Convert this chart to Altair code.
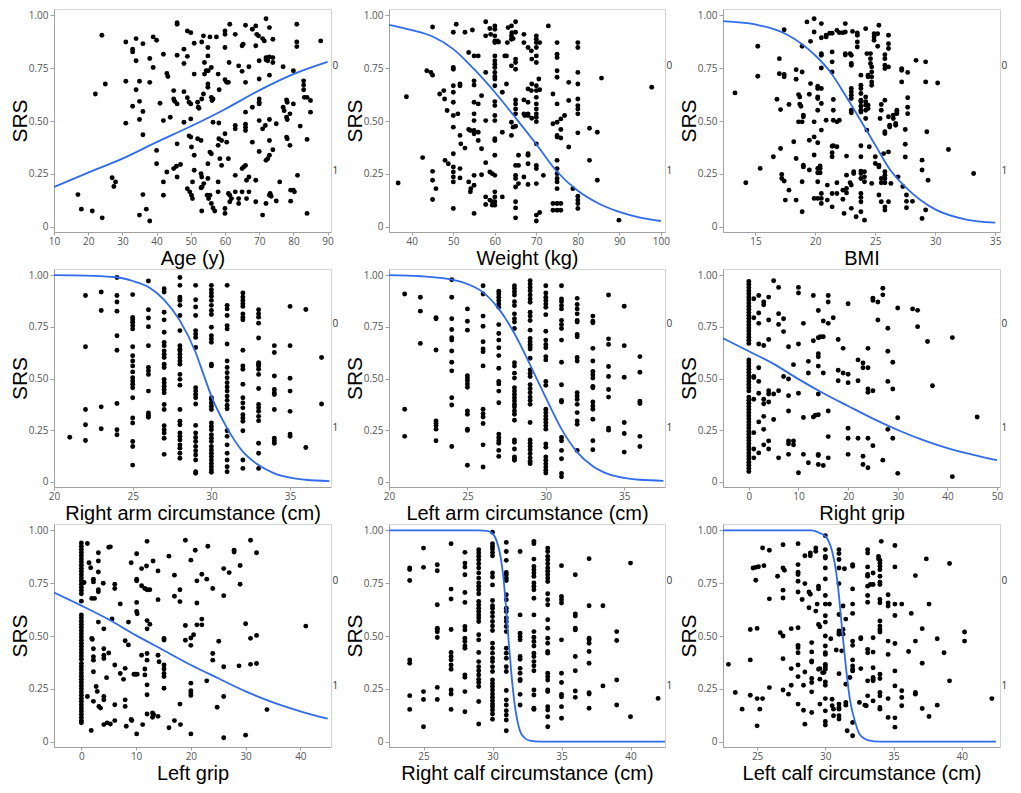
import altair as alt
import pandas as pd

BLUE = "#2f6bef"

# ---------------- data (x, [SRS values]) ----------------
age_pts = [
    (24, [0.906]), (25, [0.675]), (22.1, [0.628]), (17, [0.152]), (18, [0.083]), (21.2, [0.074]), (24.1, [0.042]),
    (27, [0.232]), (27.5, [0.19]), (28, [0.212]),
    (31, [0.874, 0.688, 0.49]), (33, [0.84, 0.827, 0.57]), (34, [0.89, 0.785, 0.648]),
    (35, [0.688, 0.593, 0.507, 0.055]), (36, [0.866, 0.545, 0.435, 0.152]), (37, [0.083]), (38, [0.027, 0.796, 0.683]),
    (39, [0.898, 0.753]), (40, [0.882, 0.361, 0.298]), (41, [0.584]),
    (42, [0.816, 0.502, 0.212, 0.149]), (43, [0.725, 0.259]), (43.3, [0.711]), (44, [0.518]),
    (45, [0.644, 0.604, 0.275]), (45.3, [0.593]), (45.8, [0.286]), (47, [0.294]),
    (46, [0.965, 0.958, 0.811, 0.581, 0.392, 0.235]), (48, [0.84, 0.772, 0.639, 0.494]),
    (49, [0.926, 0.806, 0.61, 0.18]), (49.5, [0.589, 0.43]), (49.7, [0.165]),
    (50, [0.918, 0.581, 0.424, 0.51]), (50.2, [0.377, 0.149]), (50.5, [0.133, 0.212]),
    (51, [0.868, 0.722, 0.338, 0.267]), (52, [0.589, 0.416]), (52.2, [0.565]), (52.4, [0.56]),
    (53, [0.408, 0.184, 0.251]), (53.3, [0.188]), (53.8, [0.204]), (53.2, [0.074, 0.235, 0.874, 0.604]),
    (53.7, [0.903, 0.628]), (54, [0.777, 0.722]), (54.5, [0.738]), (55.1, [0.738]),
    (55, [0.848, 0.808, 0.675, 0.66, 0.298, 0.228]), (54.8, [0.149]), (55.2, [0.133]),
    (55.6, [0.898, 0.353, 0.149]), (56, [0.753, 0.612, 0.345, 0.11]), (56.2, [0.597]), (56.5, [0.604, 0.494, 0.089]),
    (57, [0.074]), (57.5, [0.898]), (58, [0.385, 0.722, 0.212, 0.165]), (58.2, [0.416, 0.491]), (58.3, [0.648]), (58.5, [0.322]),
    (59, [0.408, 0.29]), (60, [0.926, 0.91, 0.848, 0.695, 0.44, 0.086, 0.063]), (60.5, [0.683, 0.4]), (61, [0.683, 0.322, 0.157]),
    (61.4, [0.958, 0.149, 0.118]), (61.2, [0.777]), (61.9, [0.133]),
    (63, [0.91, 0.479, 0.463, 0.243, 0.165]), (64, [0.761, 0.133, 0.11]),
    (65, [0.856, 0.735, 0.275, 0.165]), (65.3, [0.863]), (65.5, [0.283]),
    (66, [0.29, 0.953, 0.683, 0.542, 0.485, 0.471, 0.455]), (66.3, [0.22, 0.133]),
    (67, [0.757, 0.235, 0.165]), (68, [0.934, 0.565, 0.4]),
    (69, [0.95, 0.856, 0.22, 0.118]), (69.3, [0.91]), (69.8, [0.903]),
    (70, [0.785, 0.699, 0.604, 0.589, 0.581, 0.502, 0.356]), (71, [0.89, 0.463, 0.055]), (71.5, [0.879]), (71.8, [0.479]),
    (72, [0.984, 0.8, 0.79, 0.314, 0.11]), (72.5, [0.8, 0.785, 0.322]), (73, [0.803, 0.338, 0.942, 0.717, 0.507, 0.408, 0.149]),
    (73.2, [0.157]), (73.5, [0.144]), (74, [0.887, 0.8, 0.777, 0.364]), (75, [0.487, 0.122]), (76, [0.212]),
    (77, [0.757, 0.565]), (77.3, [0.549]), (78, [0.6, 0.518, 0.424]), (78.2, [0.589, 0.507, 0.416]),
    (79, [0.385, 0.534]), (79.2, [0.173, 0.121]), (80, [0.581, 0.738, 0.173]), (80.3, [0.165]),
    (81, [0.958, 0.874, 0.852]), (81.2, [0.243]), (82, [0.476]), (83, [0.69, 0.67, 0.648]), (83.2, [0.612]),
    (84, [0.612, 0.413, 0.063]), (85, [0.597, 0.542]), (88, [0.879]),
]

weight_pts = [
    (36.7, [0.207]), (38.7, [0.615]), (42.6, [0.327]), (43.6, [0.738]), (44.6, [0.73]),
    (45, [0.717, 0.945, 0.262, 0.22, 0.129]), (45.8, [0.18]), (46.7, [0.628]), (47.7, [0.644]), (47.9, [0.604]),
    (48.5, [0.55]), (48, [0.314]), (48.8, [0.298]),
    (50, [0.92, 0.753, 0.745, 0.667, 0.636, 0.589, 0.526, 0.471, 0.345, 0.283, 0.259, 0.235, 0.212, 0.086]),
    (50.7, [0.958]), (51.1, [0.534]), (51.6, [0.675, 0.667, 0.432, 0.275, 0.231]), (51.8, [0.392]),
    (52.8, [0.92, 0.372]), (53.7, [0.824, 0.46, 0.212]), (54.1, [0.455, 0.165]), (54.2, [0.18]),
    (54.6, [0.931]), (55, [0.808, 0.69, 0.67, 0.589, 0.534, 0.502, 0.455, 0.44, 0.243, 0.196, 0.063]),
    (56, [0.808, 0.581, 0.447, 0.408]), (56.8, [0.62, 0.369, 0.246]),
    (57.8, [0.903, 0.73, 0.502, 0.303, 0.141, 0.105, 0.97]), (58.8, [0.938, 0.259, 0.126]), (59, [0.91]),
    (59.4, [0.251, 0.118, 0.102]),
    (60, [0.95, 0.934, 0.903, 0.879, 0.871, 0.808, 0.785, 0.769, 0.753, 0.73, 0.711, 0.699, 0.667,
          0.592, 0.573, 0.526, 0.502, 0.416, 0.408, 0.338, 0.243, 0.165, 0.141, 0.118, 0.102]),
    (60.6, [0.879]), (60.9, [0.874]), (61.8, [0.636, 0.447, 0.141]), (62.4, [0.808]), (62.8, [0.808, 0.675]),
    (63, [0.871]), (63.2, [0.942]), (64, [0.95, 0.903, 0.887, 0.761, 0.494, 0.432]), (64.1, [0.918]), (64.4, [0.89, 0.471]),
    (65, [0.97, 0.92, 0.793, 0.777, 0.745, 0.6, 0.581, 0.557, 0.534, 0.475, 0.29, 0.243, 0.228, 0.188, 0.118, 0.089, 0.042]),
    (65.7, [0.338, 0.29, 0.204]), (67, [0.871, 0.91, 0.6, 0.534, 0.235]), (67.2, [0.526]),
    (68, [0.848, 0.652, 0.589, 0.534, 0.526, 0.345, 0.338, 0.298, 0.2]),
    (68.8, [0.832, 0.644]), (68.9, [0.793, 0.675, 0.513]),
    (70, [0.903, 0.887, 0.871, 0.848, 0.808, 0.777, 0.667, 0.644, 0.612, 0.581, 0.557, 0.534, 0.518, 0.497,
          0.392, 0.29, 0.275, 0.204, 0.055, 0.027]),
    (70.8, [0.871, 0.648, 0.067]), (70.6, [0.699]), (71.7, [0.243]), (72.9, [0.95]), (74, [0.628, 0.487, 0.11, 0.078]),
    (75, [0.871, 0.816, 0.8, 0.738, 0.707, 0.581, 0.494, 0.432, 0.424, 0.314, 0.275, 0.251, 0.228, 0.212, 0.18, 0.11, 0.078]),
    (75.9, [0.51, 0.46, 0.42, 0.11, 0.078]), (76.8, [0.526]), (77.8, [0.683, 0.597, 0.377]), (78.8, [0.18]),
    (80, [0.871, 0.848, 0.73, 0.675, 0.604, 0.573, 0.557, 0.534, 0.444, 0.144, 0.126, 0.11, 0.086]),
    (82.8, [0.466, 0.314]), (84.7, [0.447, 0.22]), (85.7, [0.703]), (89.9, [0.031]), (97.8, [0.66]),
]

bmi_pts = [
    (13.3, [0.633]), (14.2, [0.208]), (15.2, [0.854, 0.712]), (15.4, [0.276]), (16.5, [0.331]), (16.8, [0.603]),
    (17.0, [0.795, 0.724]), (17.1, [0.554, 0.37]), (17.2, [0.247, 0.228]), (17.4, [0.932, 0.72, 0.709, 0.216]), (17.5, [0.126]),
    (17.8, [0.578, 0.173]), (18.2, [0.402]), (18.4, [0.743, 0.698, 0.323, 0.126]), (18.6, [0.625, 0.496]), (18.7, [0.614, 0.58]),
    (18.8, [0.57]), (18.9, [0.854, 0.732, 0.496, 0.213, 0.071]), (19.0, [0.52, 0.528, 0.291, 0.283]), (19.3, [0.969]),
    (19.5, [0.627, 0.409, 0.268]), (19.6, [0.877, 0.677]), (19.9, [0.984, 0.921, 0.496, 0.425, 0.339, 0.134]),
    (20.2, [0.665, 0.654, 0.614, 0.606, 0.551, 0.397, 0.276, 0.255, 0.213, 0.134]), (20.4, [0.287, 0.276, 0.255]),
    (20.5, [0.819, 0.811, 0.751, 0.894, 0.961, 0.654, 0.583, 0.457, 0.157, 0.134, 0.11]),
    (20.9, [0.504, 0.898, 0.906]), (21.0, [0.197, 0.126]), (21.2, [0.915]),
    (21.4, [0.915, 0.827, 0.78, 0.732, 0.381, 0.35, 0.331, 0.157, 0.094]), (21.5, [0.602, 0.551, 0.504, 0.383]),
    (21.8, [0.929, 0.378, 0.208, 0.157, 0.496]), (22.0, [0.918, 0.504]), (22.3, [0.918, 0.13, 0.173]),
    (22.5, [0.921, 0.961, 0.819, 0.812]), (22.6, [0.334, 0.244, 0.181, 0.16]), (22.9, [0.208, 0.819]), (22.4, [0.063]),
    (23.0, [0.811, 0.772, 0.764, 0.654, 0.638, 0.622, 0.606, 0.539, 0.551, 0.197, 0.087]), (23.1, [0.924]),
    (23.2, [0.26, 0.252]), (23.4, [0.047]), (23.5, [0.906, 0.917, 0.874, 0.85]),
    (23.8, [0.717, 0.598, 0.591, 0.551, 0.543, 0.57, 0.669, 0.654, 0.63, 0.383, 0.331, 0.263, 0.252, 0.228, 0.157, 0.139, 0.118, 0.071]),
    (24.2, [0.937, 0.614, 0.591, 0.575, 0.551, 0.512]), (24.3, [0.819, 0.457]), (24.4, [0.717, 0.709, 0.575, 0.559]),
    (24.5, [0.378]), (24.1, [0.26, 0.236, 0.213, 0.031]), (24.9, [0.913, 0.898, 0.882]), (24.6, [0.819, 0.795, 0.772]),
    (24.7, [0.756, 0.732, 0.709, 0.685, 0.669, 0.205]), (25.0, [0.331, 0.299]), (25.3, [0.283, 0.291, 0.15, 0.953]),
    (25.5, [0.208, 0.578, 0.551, 0.118, 0.228]), (25.2, [0.854, 0.913]), (25.4, [0.512]),
    (25.8, [0.814, 0.795, 0.764, 0.748, 0.598, 0.449, 0.441, 0.26, 0.244, 0.228, 0.208, 0.094, 0.079]), (25.7, [0.346]),
    (26.1, [0.906, 0.843, 0.866, 0.756, 0.52, 0.354, 0.118]), (26.2, [0.48, 0.472]), (26.5, [0.528, 0.512]), (26.3, [0.205]),
    (26.7, [0.48, 0.488]), (26.8, [0.551, 0.535, 0.543]), (27.2, [0.748, 0.74, 0.685]), (26.9, [0.236]),
    (27.5, [0.46, 0.39, 0.33]), (27.7, [0.73, 0.61, 0.565, 0.535]), (27.3, [0.19]), (27.6, [0.15, 0.12, 0.09]), (28.1, [0.12]),
    (28.4, [0.787]), (28.9, [0.315, 0.268, 0.039]), (29.2, [0.78, 0.685, 0.079]), (29.3, [0.449]), (29.4, [0.22]),
    (30.2, [0.68]), (31.1, [0.365]), (33.2, [0.252]),
]

rarm_pts = [
    (21, [0.216]),
    (22, [0.902, 0.654, 0.35, 0.276, 0.2]),
    (23, [0.919, 0.829, 0.363, 0.257]),
    (24, [0.989, 0.902, 0.87, 0.826, 0.707, 0.637, 0.379, 0.252, 0.228]),
    (25, [0.906, 0.795, 0.784, 0.772, 0.756, 0.74, 0.654, 0.61, 0.585, 0.561, 0.532, 0.504, 0.488, 0.472, 0.455,
          0.407, 0.309, 0.285, 0.195, 0.171, 0.081]),
    (26, [0.972, 0.833, 0.793, 0.751, 0.659, 0.553, 0.537, 0.52, 0.439, 0.333, 0.322, 0.312]),
    (27, [0.935, 0.919, 0.821, 0.784, 0.724, 0.675, 0.659, 0.634, 0.618, 0.602, 0.569, 0.553, 0.496, 0.48, 0.463,
          0.447, 0.431, 0.374, 0.35, 0.272, 0.252, 0.236, 0.211, 0.133]),
    (28, [0.989, 0.951, 0.894, 0.886, 0.878, 0.854, 0.805, 0.732, 0.659, 0.642, 0.634, 0.618, 0.602, 0.585, 0.569,
          0.52, 0.496, 0.468, 0.35, 0.293, 0.276, 0.236, 0.22, 0.203, 0.179, 0.163, 0.138, 0.114]),
    (29, [0.951, 0.881, 0.846, 0.805, 0.732, 0.715, 0.699, 0.65, 0.455, 0.439, 0.423, 0.407, 0.377, 0.273, 0.236,
          0.215, 0.195, 0.171, 0.15, 0.13, 0.106, 0.049, 0.041]),
    (30, [0.951, 0.93, 0.914, 0.898, 0.878, 0.854, 0.829, 0.81, 0.748, 0.707, 0.691, 0.675, 0.569, 0.561, 0.407,
          0.398, 0.382, 0.366, 0.35, 0.285, 0.268, 0.252, 0.228, 0.211, 0.195, 0.171, 0.154, 0.138, 0.122, 0.106,
          0.089, 0.073, 0.057, 0.046]),
    (31, [0.951, 0.854, 0.837, 0.805, 0.756, 0.74, 0.667, 0.585, 0.553, 0.528, 0.504, 0.48, 0.459, 0.439, 0.415,
          0.394, 0.371, 0.354, 0.247, 0.22, 0.179, 0.138, 0.106, 0.073, 0.049]),
    (32, [0.914, 0.894, 0.878, 0.862, 0.849, 0.813, 0.797, 0.784, 0.637, 0.561, 0.545, 0.472, 0.407, 0.382, 0.358,
          0.325, 0.309, 0.293, 0.247, 0.106, 0.065]),
    (33, [0.833, 0.813, 0.797, 0.768, 0.696, 0.577, 0.569, 0.561, 0.545, 0.52, 0.452, 0.374, 0.358, 0.341, 0.317,
          0.296, 0.187, 0.138, 0.065]),
    (34, [0.659, 0.626, 0.512, 0.447, 0.431, 0.423, 0.35, 0.211, 0.198, 0.187]),
    (35, [0.849, 0.659, 0.501, 0.439, 0.341, 0.231, 0.22]),
    (36, [0.834, 0.166]),
    (37, [0.602, 0.377]),
]

larm_pts = [
    (21, [0.909, 0.351, 0.22]),
    (22, [0.893, 0.826, 0.67]),
    (23, [0.794, 0.789, 0.638, 0.295, 0.284, 0.271, 0.255, 0.199]),
    (24, [0.978, 0.893, 0.789, 0.737, 0.697, 0.686, 0.633, 0.579, 0.537, 0.407, 0.372, 0.171]),
    (25, [0.837, 0.777, 0.734, 0.514, 0.502, 0.49, 0.474, 0.458, 0.343, 0.327, 0.255, 0.249, 0.08]),
    (26, [0.949, 0.909, 0.802, 0.753, 0.678, 0.643, 0.63, 0.561, 0.351, 0.33, 0.314, 0.282, 0.179, 0.072]),
    (27, [0.922, 0.909, 0.893, 0.877, 0.861, 0.845, 0.761, 0.718, 0.686, 0.649, 0.611, 0.55, 0.486, 0.474, 0.439,
          0.383, 0.231, 0.215, 0.199, 0.187, 0.152, 0.123]),
    (28, [0.949, 0.936, 0.92, 0.904, 0.872, 0.853, 0.813, 0.789, 0.773, 0.742, 0.576, 0.56, 0.526, 0.502, 0.455,
          0.439, 0.423, 0.407, 0.391, 0.375, 0.362, 0.343, 0.327, 0.298, 0.203, 0.191, 0.159, 0.12, 0.112, 0.104]),
    (29, [0.973, 0.957, 0.941, 0.925, 0.904, 0.885, 0.869, 0.821, 0.802, 0.781, 0.734, 0.694, 0.678, 0.665, 0.654,
          0.643, 0.598, 0.542, 0.526, 0.51, 0.47, 0.451, 0.431, 0.41, 0.394, 0.375, 0.287, 0.203, 0.187, 0.171,
          0.155, 0.136, 0.116, 0.1, 0.088]),
    (30, [0.949, 0.914, 0.893, 0.877, 0.861, 0.845, 0.809, 0.729, 0.686, 0.665, 0.649, 0.606, 0.59, 0.486, 0.467,
          0.351, 0.335, 0.319, 0.303, 0.287, 0.271, 0.255, 0.183, 0.167, 0.12, 0.104, 0.088, 0.072, 0.056, 0.043]),
    (31, [0.949, 0.885, 0.872, 0.853, 0.837, 0.781, 0.761, 0.742, 0.686, 0.579, 0.47, 0.394, 0.386, 0.215, 0.199,
          0.152, 0.112, 0.04, 0.024]),
    (32, [0.888, 0.858, 0.837, 0.813, 0.781, 0.773, 0.713, 0.702, 0.602, 0.585, 0.431, 0.415, 0.399, 0.375, 0.335,
          0.295, 0.279, 0.152]),
    (33, [0.802, 0.777, 0.77, 0.646, 0.585, 0.534, 0.518, 0.502, 0.462, 0.455, 0.386, 0.367, 0.351, 0.303, 0.199, 0.155]),
    (34, [0.904, 0.692, 0.665, 0.558, 0.51, 0.447, 0.41, 0.26, 0.25]),
    (35, [0.85, 0.659, 0.506, 0.287, 0.234, 0.144]),
    (36, [0.606, 0.53, 0.39, 0.379, 0.22, 0.171]),
]

rgrip_pts = [
    (0, [0.97, 0.955, 0.94, 0.925, 0.91, 0.895, 0.88, 0.865, 0.85, 0.835, 0.82, 0.805, 0.79, 0.775, 0.76, 0.745,
         0.73, 0.715, 0.70, 0.685, 0.67, 0.59, 0.575, 0.56, 0.545, 0.53, 0.515, 0.50, 0.485, 0.47, 0.455, 0.44,
         0.41, 0.395, 0.38, 0.365, 0.35, 0.335, 0.32, 0.305, 0.29, 0.275, 0.26, 0.245, 0.23, 0.215, 0.20, 0.185,
         0.17, 0.155, 0.14, 0.125, 0.11, 0.095, 0.08, 0.065, 0.05]),
    (1, [0.886, 0.794, 0.4, 0.238, 0.51, 0.505, 0.159, 0.116]),
    (2, [0.902, 0.817, 0.767, 0.667, 0.552, 0.486, 0.429, 0.29, 0.14]),
    (3, [0.87, 0.857, 0.66, 0.4, 0.378, 0.317, 0.254, 0.179]),
    (4, [0.894, 0.783, 0.689, 0.441, 0.425, 0.386, 0.198, 0.159]),
    (5, [0.973, 0.425, 0.302]),
    (6, [0.941, 0.814, 0.762, 0.441, 0.116]),
    (7, [0.789, 0.727, 0.51]),
    (8, [0.654, 0.498, 0.417, 0.343, 0.198, 0.184, 0.133]),
    (9, [0.567, 0.198, 0.179]),
    (10, [0.941, 0.914, 0.667, 0.429, 0.044]),
    (11, [0.767, 0.311, 0.133]),
    (12, [0.583, 0.527, 0.092]),
    (13, [0.902, 0.683, 0.314]), (13.4, [0.322]),
    (14, [0.829, 0.697, 0.62, 0.605, 0.56, 0.425, 0.325, 0.133, 0.127, 0.084]), (14.4, [0.702]),
    (15, [0.778, 0.702, 0.527, 0.079]),
    (16, [0.902, 0.87, 0.767, 0.343, 0.219, 0.116]),
    (17, [0.794]), (18, [0.689, 0.54, 0.489]), (19, [0.646, 0.527]),
    (20, [0.862, 0.521, 0.48, 0.259, 0.211, 0.133]),
    (22, [0.59, 0.489, 0.211]), (23, [0.575, 0.552, 0.124, 0.084]),
    (24, [0.646, 0.552, 0.449, 0.433, 0.211, 0.068]),
    (25, [0.889, 0.878, 0.441, 0.175]), (26, [0.87, 0.783]), (27, [0.937, 0.905, 0.105]),
    (28, [0.743, 0.632, 0.486, 0.254]), (29, [0.579, 0.449, 0.211]), (30, [0.841, 0.31, 0.041]),
    (33, [0.837]), (34, [0.83, 0.751]), (36, [0.679]), (37, [0.465]), (41, [0.698, 0.025]), (46, [0.314]),
]

lgrip_pts = [
    (0, [0.94, 0.925, 0.91, 0.895, 0.88, 0.865, 0.85, 0.835, 0.82, 0.805, 0.79, 0.775, 0.76, 0.745, 0.73, 0.715,
         0.70, 0.665, 0.60, 0.585, 0.57, 0.555, 0.54, 0.525, 0.51, 0.495, 0.48, 0.465, 0.45, 0.435, 0.42, 0.405,
         0.39, 0.37, 0.355, 0.34, 0.325, 0.31, 0.295, 0.28, 0.265, 0.25, 0.235, 0.22, 0.205, 0.19, 0.175, 0.16,
         0.145, 0.13, 0.115, 0.10, 0.09]),
    (0.5, [0.753]), (1.1, [0.938, 0.214]), (1.4, [0.847]), (1.7, [0.823]), (1.9, [0.678, 0.489]), (2.4, [0.678]),
    (2.0, [0.484]), (1.8, [0.053]), (2.2, [0.769, 0.756, 0.44, 0.402, 0.386, 0.331, 0.191]), (2.7, [0.261]), (2.9, [0.238]),
    (3.1, [0.894, 0.855, 0.803, 0.719, 0.709, 0.566]), (3.2, [0.167]), (3.5, [0.159]),
    (4.0, [0.75]), (4.1, [0.534, 0.44, 0.409, 0.394, 0.214, 0.198, 0.081]), (4.7, [0.089]), (4.6, [0.303]),
    (5.0, [0.92, 0.42]), (5.3, [0.922, 0.084]), (5.6, [0.581]), (6.1, [0.745, 0.725, 0.363, 0.175, 0.1]),
    (7.1, [0.652, 0.323]), (7.7, [0.295]), (8.0, [0.347, 0.478, 0.198, 0.167]), (8.2, [0.073]), (8.6, [0.566, 0.458]),
    (9.1, [0.847, 0.105]), (9.2, [0.1]), (9.6, [0.319]), (9.9, [0.319]), (10.2, [0.319, 0.605]),
    (10.1, [0.769, 0.761, 0.889, 0.659, 0.616, 0.037]),
    (11.0, [0.409, 0.819, 0.738]), (11.2, [0.081]), (11.6, [0.725, 0.344, 0.316]),
    (12.0, [0.719, 0.573, 0.534, 0.417, 0.386, 0.269, 0.222, 0.131, 0.948]), (12.5, [0.719, 0.556]), (11.9, [0.831]),
    (13.0, [0.136, 0.116]), (13.2, [0.128]), (13.1, [0.855]), (14.0, [0.808, 0.672, 0.409, 0.12]), (14.2, [0.378]),
    (15.1, [0.489, 0.481, 0.363, 0.344, 0.323, 0.308, 0.253]), (16.0, [0.878, 0.066]), (17.0, [0.788, 0.688, 0.1]),
    (18.0, [0.719, 0.663, 0.178]), (18.1, [0.081]), (19.0, [0.953, 0.55, 0.48]),
    (20.0, [0.859, 0.491, 0.456, 0.277, 0.241, 0.23, 0.219, 0.037]),
    (20.5, [0.506]), (20.8, [0.906]), (21.1, [0.761, 0.656, 0.553]), (22.0, [0.792, 0.58, 0.553]), (22.9, [0.769, 0.288]),
    (23.1, [0.925]), (24.0, [0.725, 0.417, 0.386]), (24.8, [0.163]), (25.1, [0.475]),
    (26.0, [0.819, 0.691, 0.355, 0.214, 0.019]), (27.0, [0.8]), (27.9, [0.906, 0.897]), (28.8, [0.359]),
    (29.0, [0.834, 0.745]), (30.0, [0.558, 0.031]), (30.9, [0.953, 0.489, 0.366]), (32.0, [0.894, 0.503, 0.37]),
    (33.9, [0.152]), (41.0, [0.547]),
]

rcalf_pts = [
    (24, [0.822, 0.815, 0.763, 0.387, 0.371, 0.218, 0.153]),
    (25, [0.916, 0.825, 0.237, 0.2, 0.071]),
    (26, [0.837, 0.809, 0.648, 0.537, 0.531, 0.52, 0.493, 0.257, 0.2]),
    (27, [0.937, 0.722, 0.675, 0.531, 0.422, 0.403, 0.387, 0.363, 0.343, 0.245, 0.226, 0.153]),
    (28, [0.896, 0.845, 0.826, 0.79, 0.706, 0.659, 0.545, 0.529, 0.49, 0.474, 0.453, 0.442, 0.316, 0.305, 0.237, 0.142]),
    (29, [0.908, 0.893, 0.877, 0.861, 0.842, 0.822, 0.798, 0.774, 0.751, 0.735, 0.719, 0.7, 0.664, 0.648, 0.632,
          0.616, 0.6, 0.585, 0.569, 0.506, 0.482, 0.422, 0.379, 0.355, 0.336, 0.316, 0.295, 0.28, 0.261, 0.19, 0.084]),
    (30, [0.991, 0.937, 0.924, 0.912, 0.896, 0.88, 0.798, 0.779, 0.742, 0.668, 0.643, 0.632, 0.611, 0.592, 0.569,
          0.548, 0.526, 0.466, 0.442, 0.419, 0.395, 0.379, 0.355, 0.332, 0.292, 0.276, 0.261, 0.245, 0.226, 0.21,
          0.194, 0.178, 0.166, 0.15, 0.131, 0.106]),
    (31, [0.943, 0.9, 0.858, 0.801, 0.79, 0.774, 0.763, 0.695, 0.672, 0.632, 0.616, 0.585, 0.569, 0.545, 0.521,
          0.442, 0.419, 0.395, 0.355, 0.332, 0.242, 0.198, 0.174, 0.147, 0.126, 0.103, 0.052]),
    (32, [0.9, 0.6, 0.513, 0.498, 0.482, 0.403, 0.39, 0.347, 0.324, 0.295, 0.289, 0.224, 0.174]),
    (33, [0.948, 0.937, 0.864, 0.829, 0.814, 0.798, 0.782, 0.751, 0.735, 0.719, 0.679, 0.6, 0.521, 0.494, 0.474,
          0.453, 0.419, 0.403, 0.379, 0.359, 0.336, 0.245, 0.221, 0.158, 0.153]),
    (34, [0.916, 0.9, 0.877, 0.861, 0.842, 0.822, 0.806, 0.79, 0.774, 0.758, 0.7, 0.672, 0.648, 0.577, 0.537, 0.49,
          0.466, 0.427, 0.419, 0.324, 0.308, 0.292, 0.245, 0.237, 0.166, 0.15, 0.118, 0.071]),
    (35, [0.833, 0.687, 0.672, 0.656, 0.482, 0.324, 0.28, 0.224, 0.213, 0.166, 0.111]),
    (36, [0.79, 0.605, 0.595, 0.537, 0.529, 0.403, 0.336, 0.24, 0.21]),
    (37, [0.866, 0.643, 0.49, 0.482, 0.466, 0.427, 0.371, 0.232, 0.226, 0.158]),
    (38, [0.643, 0.264]),
    (39, [0.521, 0.479, 0.292, 0.174]),
    (40, [0.845, 0.118]),
    (42, [0.205]),
]

lcalf_pts = [
    (22.9, [0.366]), (23.4, [0.233]), (23.9, [0.154]), (24.5, [0.387, 0.22, 0.531]), (24.7, [0.822]), (24.9, [0.825, 0.764]),
    (25.1, [0.828]), (25.0, [0.204, 0.075, 0.536]), (25.2, [0.154]), (25.4, [0.204, 0.917]), (25.5, [0.833]),
    (25.9, [0.906, 0.676, 0.256]), (26.5, [0.783]), (26.7, [0.516]), (26.9, [0.932, 0.822, 0.717, 0.68, 0.5, 0.393, 0.245]),
    (27.0, [0.811]), (27.3, [0.225]), (27.5, [0.535, 0.346, 0.267]),
    (28.0, [0.937, 0.838, 0.802, 0.791, 0.759, 0.708, 0.539, 0.456, 0.445, 0.421, 0.363, 0.308, 0.178]),
    (28.3, [0.673]), (28.4, [0.267, 0.149]), (28.5, [0.88, 0.748, 0.33, 0.083]), (28.8, [0.708, 0.634]),
    (28.9, [0.88, 0.893, 0.698]), (29.0, [0.469, 0.425, 0.382, 0.377, 0.299, 0.28, 0.236, 0.138]),
    (29.3, [0.901, 0.917, 0.618]), (29.4, [0.651]), (29.5, [0.555, 0.736, 0.723, 0.343]), (29.6, [0.544, 0.346, 0.296, 0.178]),
    (29.8, [0.327]), (29.9, [0.327]),
    (30.0, [0.975, 0.909, 0.877, 0.869, 0.822, 0.77, 0.692, 0.651, 0.596, 0.566, 0.5, 0.453, 0.421, 0.413, 0.366,
            0.355, 0.343, 0.283, 0.267, 0.204, 0.146, 0.096, 0.079]),
    (30.3, [0.651]), (30.4, [0.487]), (30.5, [0.201, 0.17]), (30.6, [0.123, 0.154]), (30.8, [0.434]),
    (31.0, [0.909, 0.89, 0.862, 0.822, 0.748, 0.602, 0.524, 0.516, 0.508, 0.322, 0.178, 0.162, 0.154, 0.123, 0.107]),
    (31.2, [0.43]), (31.3, [0.531, 0.509, 0.642]), (31.4, [0.818]), (31.5, [0.58, 0.272, 0.186, 0.173]), (31.6, [0.052]),
    (31.8, [0.304]), (32.0, [0.838, 0.83, 0.723, 0.651, 0.607, 0.476, 0.456, 0.387, 0.358, 0.343, 0.335, 0.091, 0.028]),
    (32.5, [0.186]), (32.6, [0.492, 0.487, 0.346]), (32.9, [0.173]), (33.0, [0.17]),
    (33.1, [0.909, 0.893, 0.827, 0.791, 0.783, 0.736, 0.692, 0.66, 0.437, 0.421, 0.288, 0.217]), (33.3, [0.744]),
    (33.5, [0.744, 0.798, 0.492, 0.424, 0.35, 0.304, 0.296, 0.288, 0.193]), (33.9, [0.865, 0.877]),
    (34.0, [0.755, 0.859, 0.846, 0.83, 0.814, 0.783, 0.744, 0.673, 0.657, 0.571, 0.547, 0.531, 0.519, 0.319, 0.299,
            0.233, 0.217, 0.162, 0.154]),
    (34.1, [0.948]), (34.6, [0.695, 0.657, 0.642, 0.476, 0.413, 0.204, 0.115]),
    (35.1, [0.928, 0.827, 0.651, 0.597, 0.465, 0.335, 0.264, 0.113, 0.069]),
    (35.6, [0.651, 0.241, 0.209, 0.17]), (36.3, [0.607]), (36.1, [0.427]), (36.6, [0.786, 0.476, 0.233, 0.225]),
    (37.1, [0.157, 0.535, 0.371]), (37.4, [0.865]), (37.6, [0.651, 0.119]), (38.2, [0.487, 0.173]), (38.7, [0.421]),
    (39.1, [0.843, 0.288]), (40.2, [0.519, 0.476]), (42.2, [0.204]),
]

# fitted curves (x, SRS)
age_curve = [(10, 0.188), (20, 0.256), (30, 0.322), (40, 0.40), (50, 0.475), (60, 0.556), (70, 0.645), (80, 0.722), (90, 0.78)]
weight_curve = [(34.5, 0.955), (40, 0.93), (45, 0.9), (50, 0.84), (55, 0.745), (60, 0.636), (65, 0.515), (70, 0.39),
                (75, 0.26), (80, 0.17), (85, 0.11), (90, 0.07), (95, 0.043), (100, 0.027)]
bmi_curve = [(12.3, 0.973), (15, 0.957), (17.5, 0.913), (20, 0.81), (21.25, 0.732), (22.5, 0.622), (25, 0.386),
             (26.25, 0.268), (27.5, 0.189), (30, 0.082), (32.5, 0.035), (35, 0.019)]
rarm_curve = [(20, 1.0), (22, 0.998), (24, 0.99), (25, 0.972), (26, 0.943), (27, 0.881), (28, 0.78), (29, 0.626),
              (29.5, 0.52), (30, 0.415), (31, 0.26), (32, 0.146), (33, 0.081), (34, 0.041), (35, 0.02), (36, 0.01), (37.5, 0.003)]
larm_curve = [(20, 1.0), (22, 0.995), (24, 0.978), (25, 0.957), (26, 0.917), (27, 0.837), (28, 0.718), (29, 0.566),
              (29.5, 0.486), (30, 0.407), (31, 0.255), (32, 0.144), (33, 0.075), (34, 0.037), (35, 0.019), (36, 0.01), (37.5, 0.005)]
rgrip_curve = [(-5.2, 0.695), (0, 0.632), (5, 0.571), (10, 0.497), (15, 0.429), (20, 0.367), (25, 0.306), (30, 0.251),
               (35, 0.203), (40, 0.163), (45, 0.132), (50, 0.105)]
lgrip_curve = [(-5, 0.706), (0, 0.644), (5, 0.578), (10, 0.503), (15, 0.433), (20, 0.363), (25, 0.3), (30, 0.238),
               (35, 0.186), (40, 0.144), (45, 0.109)]
rcalf_curve = [(22.5, 1.0), (29.0, 1.0), (29.6, 0.997), (30.0, 0.985), (30.3, 0.95), (30.6, 0.87), (30.8, 0.77),
               (31.0, 0.62), (31.2, 0.45), (31.4, 0.3), (31.6, 0.18), (31.8, 0.1), (32.0, 0.05), (32.3, 0.02),
               (32.7, 0.005), (33.5, 0.0), (42.5, 0.0)]
lcalf_curve = [(22.5, 1.0), (29.0, 1.0), (29.6, 0.987), (30.05, 0.969), (30.5, 0.9), (30.8, 0.8), (31.0, 0.69),
               (31.25, 0.516), (31.5, 0.358), (31.8, 0.2), (32.2, 0.09), (32.5, 0.036), (33.1, 0.008), (34.0, 0.0), (42.5, 0.0)]

titles = ["Age (y)", "Weight (kg)", "BMI",
          "Right arm circumstance (cm)", "Left arm circumstance (cm)", "Right grip",
          "Left grip", "Right calf circumstance (cm)", "Left calf circumstance (cm)"]
x_domains = [[10, 91], [34.5, 101], [12.3, 35.4],
             [20, 37.6], [20, 37.6], [-5.2, 50.6],
             [-5, 45.6], [22.5, 42.5], [22.5, 42.8]]
x_ticks = [[10, 20, 30, 40, 50, 60, 70, 80, 90], [40, 50, 60, 70, 80, 90, 100], [15, 20, 25, 30, 35],
           [20, 25, 30, 35], [20, 25, 30, 35], [0, 10, 20, 30, 40, 50],
           [0, 10, 20, 30, 40], [25, 30, 35, 40], [25, 30, 35, 40]]
y_ticks = [0, 0.25, 0.5, 0.75, 1]
right_levels = [0.265, 0.765]

all_pts = [age_pts, weight_pts, bmi_pts, rarm_pts, larm_pts, rgrip_pts, lgrip_pts, rcalf_pts, lcalf_pts]
all_curves = [age_curve, weight_curve, bmi_curve, rarm_curve, larm_curve, rgrip_curve, lgrip_curve, rcalf_curve, lcalf_curve]

WIDTHS = [277, 276, 277]
HEIGHTS = [223, 218, 223]
TITLE_Y = 32


def to_frame(groups):
    xs, ys = [], []
    for x, yl in groups:
        for y in yl:
            xs.append(x)
            ys.append(y)
    return pd.DataFrame({"x": xs, "y": ys})


def panel(i):
    row, col = divmod(i, 3)
    W, H = WIDTHS[col], HEIGHTS[row]
    pts = to_frame(all_pts[i])
    cdf = pd.DataFrame(all_curves[i], columns=["x", "y"])
    xs = alt.Scale(domain=x_domains[i], nice=False, zero=False)
    ys = alt.Scale(domain=[-0.025, 1.03], nice=False, zero=False)
    xax = alt.Axis(values=x_ticks[i], title=titles[i], titleX=W / 2, titleY=TITLE_Y,
                   titleAlign="center", titleBaseline="alphabetic", grid=False,
                   tickSize=3, labelPadding=1, labelFlush=False, labelOverlap=False)
    yl = alt.Axis(values=y_ticks, labelExpr="datum.value == 0 ? '0' : format(datum.value, '.2f')",
                  title="SRS", titleX=-28, titleY=H / 2, titleAlign="center", titleBaseline="alphabetic",
                  titleFontSize=21, grid=False, tickSize=4, labelPadding=2)
    yr = alt.Axis(orient="right", values=right_levels, labelExpr="datum.value > 0.5 ? '0' : '1'",
                  title="", ticks=False, grid=False, labelPadding=1, domainColor="#d2d2d2",
                  labelColor="#333333", labelFontSize=10)
    p = alt.Chart(pts).mark_circle(size=24, color="black", opacity=1).encode(
        x=alt.X("x:Q", scale=xs, axis=xax),
        y=alt.Y("y:Q", scale=ys, axis=yl),
    )
    c = alt.Chart(cdf).mark_line(color=BLUE, strokeWidth=1.8, interpolate="monotone", clip=True).encode(
        x=alt.X("x:Q", scale=xs, axis=xax),
        y=alt.Y("y:Q", scale=ys, axis=yr),
    )
    return alt.layer(p, c).resolve_scale(y="independent").properties(width=W, height=H)


chart = alt.concat(*[panel(i) for i in range(9)], columns=3,
                   spacing={"row": 37, "column": 58}, bounds="flush").properties(
    padding={"left": 0, "top": 0, "right": 0, "bottom": 0}
).configure_view(
    stroke="#d6d6d6", strokeWidth=1
).configure_axis(
    domainColor="#a0a0a0", tickColor="#a0a0a0", labelColor="#555555",
    labelFont="Open Sans", labelFontSize=10,
    titleFont="Liberation Sans", titleFontSize=20, titleFontWeight="normal", titleColor="black",
)

chart.save("out.html", embed_options={"renderer": "svg", "actions": False})
